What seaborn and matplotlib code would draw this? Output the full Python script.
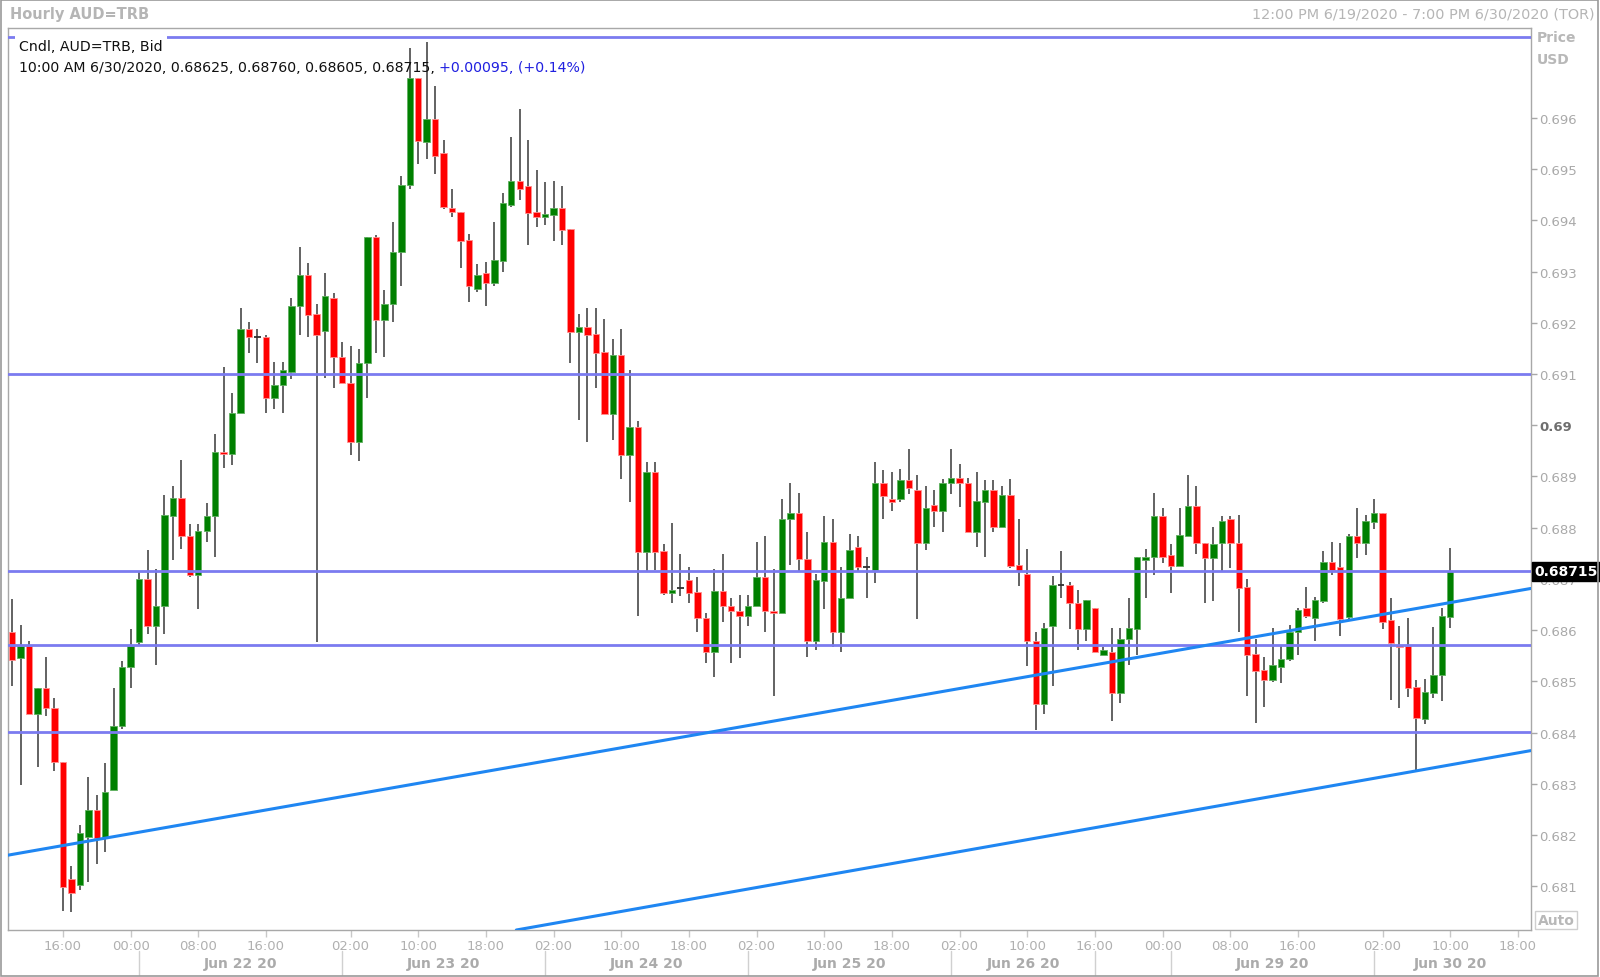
import numpy as np
import pandas as pd
import seaborn as sns
import matplotlib
matplotlib.use("Agg")
import matplotlib.pyplot as plt
import matplotlib.transforms as mtransforms

# ---------------- data (hourly AUD=TRB candles) ----------------
opens = [0.68597, 0.68546, 0.68570, 0.68436, 0.68488, 0.68449, 0.68343, 0.68115, 0.68103, 0.68197,
         0.68249, 0.68196, 0.68288, 0.68414, 0.68528, 0.68577, 0.68699, 0.68608, 0.68648, 0.68823,
         0.68858, 0.68784, 0.68707, 0.68793, 0.68823, 0.68948, 0.68943, 0.69024, 0.69188, 0.69172,
         0.69172, 0.69053, 0.69078, 0.69104, 0.69232, 0.69293, 0.69217, 0.69183, 0.69248, 0.69133,
         0.69083, 0.68967, 0.69122, 0.69367, 0.69206, 0.69236, 0.69338, 0.69468, 0.69677, 0.69552,
         0.69597, 0.69532, 0.69423, 0.69417, 0.69362, 0.69266, 0.69297, 0.69277, 0.69321, 0.69430,
         0.69477, 0.69467, 0.69417, 0.69407, 0.69411, 0.69423, 0.69383, 0.69182, 0.69192, 0.69178,
         0.69142, 0.69022, 0.69137, 0.68942, 0.68997, 0.68753, 0.68908, 0.68754, 0.68673, 0.68682,
         0.68698, 0.68674, 0.68623, 0.68558, 0.68677, 0.68648, 0.68638, 0.68627, 0.68648, 0.68703,
         0.68638, 0.68633, 0.68818, 0.68829, 0.68739, 0.68578, 0.68697, 0.68772, 0.68597, 0.68662,
         0.68762, 0.68723, 0.68718, 0.68887, 0.68857, 0.68856, 0.68893, 0.68874, 0.68771, 0.68844,
         0.68832, 0.68887, 0.68897, 0.68888, 0.68792, 0.68851, 0.68874, 0.68801, 0.68864, 0.68727,
         0.68710, 0.68578, 0.68457, 0.68608, 0.68688, 0.68688, 0.68653, 0.68602, 0.68643, 0.68552,
         0.68557, 0.68478, 0.68582, 0.68603, 0.68738, 0.68742, 0.68822, 0.68747, 0.68726, 0.68783,
         0.68843, 0.68771, 0.68741, 0.68771, 0.68818, 0.68770, 0.68684, 0.68554, 0.68523, 0.68502,
         0.68528, 0.68543, 0.68596, 0.68643, 0.68623, 0.68658, 0.68734, 0.68723, 0.68625, 0.68783,
         0.68771, 0.68812, 0.68829, 0.68619, 0.68572, 0.68569, 0.68489, 0.68426, 0.68478, 0.68512,
         0.68625]
highs = [0.68660, 0.68610, 0.68578, 0.68488, 0.68547, 0.68468, 0.68343, 0.68139, 0.68219, 0.68313,
         0.68278, 0.68341, 0.68488, 0.68539, 0.68603, 0.68715, 0.68756, 0.68720, 0.68864, 0.68882,
         0.68933, 0.68808, 0.68808, 0.68849, 0.68982, 0.69113, 0.69063, 0.69228, 0.69202, 0.69188,
         0.69176, 0.69123, 0.69123, 0.69248, 0.69347, 0.69317, 0.69237, 0.69297, 0.69258, 0.69162,
         0.69154, 0.69148, 0.69367, 0.69372, 0.69263, 0.69397, 0.69487, 0.69737, 0.69677, 0.69747,
         0.69662, 0.69557, 0.69462, 0.69417, 0.69373, 0.69315, 0.69318, 0.69397, 0.69453, 0.69563,
         0.69617, 0.69557, 0.69498, 0.69474, 0.69477, 0.69467, 0.69383, 0.69217, 0.69228, 0.69228,
         0.69207, 0.69168, 0.69188, 0.69108, 0.69009, 0.68929, 0.68929, 0.68768, 0.68809, 0.68749,
         0.68723, 0.68703, 0.68633, 0.68720, 0.68749, 0.68662, 0.68669, 0.68669, 0.68773, 0.68783,
         0.68719, 0.68857, 0.68887, 0.68867, 0.68792, 0.68710, 0.68822, 0.68818, 0.68723, 0.68788,
         0.68783, 0.68742, 0.68929, 0.68913, 0.68908, 0.68915, 0.68953, 0.68903, 0.68882, 0.68874,
         0.68896, 0.68953, 0.68924, 0.68898, 0.68908, 0.68893, 0.68893, 0.68882, 0.68896, 0.68818,
         0.68758, 0.68597, 0.68614, 0.68705, 0.68754, 0.68694, 0.68679, 0.68659, 0.68643, 0.68568,
         0.68604, 0.68604, 0.68662, 0.68742, 0.68759, 0.68868, 0.68838, 0.68768, 0.68838, 0.68903,
         0.68882, 0.68771, 0.68802, 0.68822, 0.68822, 0.68824, 0.68699, 0.68583, 0.68547, 0.68604,
         0.68571, 0.68610, 0.68643, 0.68684, 0.68664, 0.68755, 0.68773, 0.68770, 0.68788, 0.68838,
         0.68824, 0.68857, 0.68829, 0.68663, 0.68609, 0.68623, 0.68503, 0.68505, 0.68606, 0.68643,
         0.68760]
lows = [0.68492, 0.68297, 0.68436, 0.68333, 0.68433, 0.68326, 0.68053, 0.68050, 0.68093, 0.68108,
        0.68144, 0.68168, 0.68288, 0.68407, 0.68487, 0.68570, 0.68593, 0.68533, 0.68593, 0.68738,
        0.68758, 0.68704, 0.68642, 0.68772, 0.68743, 0.68917, 0.68923, 0.69024, 0.69141, 0.69121,
        0.69024, 0.69032, 0.69024, 0.69090, 0.69176, 0.69172, 0.68577, 0.69092, 0.69072, 0.69083,
        0.68942, 0.68931, 0.69053, 0.69141, 0.69133, 0.69201, 0.69271, 0.69461, 0.69510, 0.69519,
        0.69490, 0.69422, 0.69407, 0.69306, 0.69241, 0.69261, 0.69232, 0.69271, 0.69300, 0.69425,
        0.69440, 0.69351, 0.69386, 0.69391, 0.69360, 0.69351, 0.69121, 0.69011, 0.68967, 0.69072,
        0.69022, 0.68972, 0.68896, 0.68851, 0.68627, 0.68713, 0.68718, 0.68669, 0.68653, 0.68666,
        0.68653, 0.68597, 0.68537, 0.68508, 0.68617, 0.68537, 0.68546, 0.68609, 0.68648, 0.68597,
        0.68472, 0.68633, 0.68727, 0.68716, 0.68547, 0.68562, 0.68641, 0.68567, 0.68558, 0.68662,
        0.68714, 0.68662, 0.68692, 0.68818, 0.68832, 0.68851, 0.68866, 0.68622, 0.68757, 0.68801,
        0.68791, 0.68866, 0.68841, 0.68792, 0.68762, 0.68742, 0.68791, 0.68801, 0.68721, 0.68687,
        0.68531, 0.68406, 0.68437, 0.68492, 0.68662, 0.68602, 0.68562, 0.68578, 0.68558, 0.68552,
        0.68422, 0.68458, 0.68532, 0.68552, 0.68662, 0.68707, 0.68732, 0.68673, 0.68726, 0.68783,
        0.68749, 0.68653, 0.68658, 0.68714, 0.68721, 0.68597, 0.68472, 0.68419, 0.68451, 0.68498,
        0.68497, 0.68539, 0.68552, 0.68623, 0.68578, 0.68653, 0.68707, 0.68588, 0.68622, 0.68741,
        0.68747, 0.68797, 0.68602, 0.68463, 0.68448, 0.68469, 0.68327, 0.68417, 0.68468, 0.68462,
        0.68605]
closes = [0.68542, 0.68570, 0.68436, 0.68488, 0.68448, 0.68342, 0.68098, 0.68088, 0.68204, 0.68249,
          0.68194, 0.68285, 0.68414, 0.68529, 0.68570, 0.68700, 0.68608, 0.68648, 0.68824, 0.68858,
          0.68784, 0.68707, 0.68793, 0.68823, 0.68948, 0.68943, 0.69024, 0.69188, 0.69172, 0.69172,
          0.69053, 0.69078, 0.69107, 0.69233, 0.69293, 0.69216, 0.69176, 0.69252, 0.69133, 0.69083,
          0.68967, 0.69122, 0.69367, 0.69206, 0.69237, 0.69338, 0.69468, 0.69677, 0.69555, 0.69597,
          0.69526, 0.69425, 0.69417, 0.69360, 0.69271, 0.69293, 0.69278, 0.69323, 0.69433, 0.69477,
          0.69461, 0.69415, 0.69407, 0.69412, 0.69423, 0.69381, 0.69182, 0.69192, 0.69176, 0.69141,
          0.69022, 0.69137, 0.68942, 0.68997, 0.68753, 0.68908, 0.68753, 0.68673, 0.68679, 0.68682,
          0.68673, 0.68623, 0.68558, 0.68677, 0.68647, 0.68638, 0.68627, 0.68648, 0.68703, 0.68638,
          0.68633, 0.68818, 0.68829, 0.68739, 0.68578, 0.68698, 0.68772, 0.68597, 0.68662, 0.68757,
          0.68723, 0.68723, 0.68887, 0.68862, 0.68851, 0.68893, 0.68877, 0.68771, 0.68838, 0.68832,
          0.68888, 0.68897, 0.68887, 0.68792, 0.68853, 0.68874, 0.68801, 0.68864, 0.68726, 0.68716,
          0.68578, 0.68457, 0.68604, 0.68689, 0.68688, 0.68653, 0.68602, 0.68659, 0.68558, 0.68562,
          0.68478, 0.68583, 0.68604, 0.68742, 0.68742, 0.68822, 0.68742, 0.68726, 0.68786, 0.68843,
          0.68771, 0.68741, 0.68768, 0.68814, 0.68771, 0.68682, 0.68552, 0.68521, 0.68502, 0.68533,
          0.68544, 0.68596, 0.68640, 0.68627, 0.68659, 0.68734, 0.68718, 0.68622, 0.68783, 0.68771,
          0.68814, 0.68829, 0.68617, 0.68575, 0.68567, 0.68487, 0.68428, 0.68479, 0.68512, 0.68627,
          0.68715]

time_tick_pos = [6, 14, 22, 30, 40, 48, 56, 64, 72, 80, 88, 96, 104, 112, 120, 128, 136, 144, 152, 162, 170, 178]
time_tick_labels = ["16:00", "00:00", "08:00", "16:00", "02:00", "10:00", "18:00", "02:00", "10:00", "18:00",
                    "02:00", "10:00", "18:00", "02:00", "10:00", "16:00", "00:00", "08:00", "16:00", "02:00",
                    "10:00", "18:00"]
day_sep_pos = [15, 39, 63, 87, 111, 128, 137, 161]
day_label_pos = [27, 51, 75, 99, 119.5, 149, 170]
day_labels = ["Jun 22 20", "Jun 23 20", "Jun 24 20", "Jun 25 20", "Jun 26 20", "Jun 29 20", "Jun 30 20"]

price_ticks = [0.681, 0.682, 0.683, 0.684, 0.685, 0.686, 0.687, 0.688, 0.689, 0.690,
               0.691, 0.692, 0.693, 0.694, 0.695, 0.696]
price_tick_labels = ["0.681", "0.682", "0.683", "0.684", "0.685", "0.686", "0.687", "0.688", "0.689", "0.69",
                     "0.691", "0.692", "0.693", "0.694", "0.695", "0.696"]

h_levels = [0.69757, 0.69100, 0.68715, 0.68571, 0.68402]
trend_upper_pts = [(-0.85, 0.68160), (167.6, 0.68647)]
trend_lower_pts = [(59.6, 0.68015), (179.5, 0.68365)]

last_price = "0.68715"
info_line1 = "Cndl, AUD=TRB, Bid"
info_line2 = "10:00 AM 6/30/2020, 0.68625, 0.68760, 0.68605, 0.68715, "
info_change = "+0.00095, (+0.14%)"

# ---------------- figure ----------------
sns.set_theme(style="white")
plt.rcParams["font.family"] = ["DejaVu Sans"]

df = pd.DataFrame({"idx": np.arange(len(opens)), "open": opens, "high": highs,
                   "low": lows, "close": closes})
df["bottom"] = df[["open", "close"]].min(axis=1)
df["height"] = (df["close"] - df["open"]).abs()
df["up"] = df["close"] > df["open"]
df["doji"] = df["height"] < 0.000005

W, H = 1600, 978
fig = plt.figure(figsize=(W / 100, H / 100), dpi=100)
fig.patch.set_facecolor("white")
ax = fig.add_axes([8.2 / W, 1 - 931 / H, (1530.6 - 8.2) / W, (931 - 28.6) / H])
ax.set_facecolor("white")

# wicks
ax.vlines(df["idx"], df["low"], df["high"], color="#383838", lw=1.1, zorder=2)

# bodies
body_w = 0.76
nd = df[~df["doji"]]
up = nd[nd["up"]]
dn = nd[~nd["up"]]
ax.bar(up["idx"], up["height"].clip(lower=0.00004), bottom=up["bottom"], width=body_w,
       color="#008000", edgecolor="#5fb05f", linewidth=0.6, zorder=3)
ax.bar(dn["idx"], dn["height"].clip(lower=0.00004), bottom=dn["bottom"], width=body_w,
       color="#ff0000", edgecolor="#ff9090", linewidth=0.6, zorder=3)
dj = df[df["doji"]]
ax.hlines(dj["open"], dj["idx"] - body_w / 2, dj["idx"] + body_w / 2, color="#303030", lw=1.3, zorder=3)

# horizontal levels
for lv in h_levels:
    ax.axhline(lv, color="#7b7bf0", lw=2.0, zorder=4)

# trend lines
for pts in (trend_upper_pts, trend_lower_pts):
    ax.axline(pts[0], pts[1], color="#1f86f2", lw=2.2, zorder=5)

ax.set_xlim(-0.47, 179.5)
ax.set_ylim(0.68015, 0.69776)

for sp in ax.spines.values():
    sp.set_color("#a8a8a8")
    sp.set_linewidth(1.0)

# y axis on right
ax.yaxis.tick_right()
ax.set_yticks(price_ticks)
ax.set_yticklabels(price_tick_labels)
ax.tick_params(axis="y", which="major", direction="out", length=4, width=1, color="#a8a8a8",
               labelsize=9.5, labelcolor="#a9a9a9", pad=2, right=True, left=False)
for lab in ax.get_yticklabels():
    if lab.get_text() == "0.69":
        lab.set_fontweight("bold")
        lab.set_color("#6e6e6e")

# x axis
ax.set_xticks(time_tick_pos)
ax.set_xticklabels(time_tick_labels)
ax.tick_params(axis="x", which="major", direction="out", length=5, width=1, color="#c8c8c8",
               labelsize=9.5, labelcolor="#b0b0b0", pad=1.5, bottom=True)

trans = mtransforms.blended_transform_factory(ax.transData, ax.transAxes)
axh = 931 - 28.6
for p in day_sep_pos:
    ax.plot([p, p], [-(952 - 931) / axh, -(976 - 931) / axh], transform=trans, color="#d0d0d0",
            lw=1, clip_on=False)
for p, t in zip(day_label_pos, day_labels):
    ax.text(p, -(964 - 931) / axh, t, transform=trans, ha="center", va="center", fontsize=10,
            fontweight="bold", color="#ababab")

# info text inside plot
t1 = ax.text((19 - 8.2) / 1522.4, 1 - (46.5 - 28.6) / axh, info_line1, transform=ax.transAxes,
             ha="left", va="center", fontsize=10.2, color="#101010", zorder=6,
             bbox=dict(facecolor="white", edgecolor="none", pad=3.0))
t2 = ax.text((19 - 8.2) / 1522.4, 1 - (68.3 - 28.6) / axh, info_line2, transform=ax.transAxes,
             ha="left", va="center", fontsize=10.2, color="#101010", zorder=6)
ax.annotate(info_change, xy=(1, 0.5), xycoords=t2, ha="left", va="center", fontsize=10.2,
            color="#2020e0", zorder=6)

# last price label
ax.annotate(last_price, xy=(1.0, 0.68715), xycoords=("axes fraction", "data"),
            xytext=(3, 0), textcoords="offset points", ha="left", va="center", fontsize=10,
            fontweight="bold", color="white", zorder=10, annotation_clip=False,
            bbox=dict(boxstyle="square,pad=0.2", facecolor="black", edgecolor="black"))

# header texts
fig.text(10 / W, 1 - 15 / H, "Hourly AUD=TRB", ha="left", va="center", fontsize=10.5,
         fontweight="bold", color="#b5b5b5")
fig.text(1595 / W, 1 - 15 / H, "12:00 PM 6/19/2020 - 7:00 PM 6/30/2020 (TOR)", ha="right",
         va="center", fontsize=10.4, color="#b5b5b5")
fig.text(1537 / W, 1 - 38.5 / H, "Price", ha="left", va="center", fontsize=10,
         fontweight="bold", color="#b8b8b8")
fig.text(1537 / W, 1 - 60.5 / H, "USD", ha="left", va="center", fontsize=10,
         fontweight="bold", color="#b8b8b8")
fig.text(1556 / W, 1 - 921 / H, "Auto", ha="center", va="center", fontsize=10,
         fontweight="bold", color="#b8b8b8",
         bbox=dict(boxstyle="square,pad=0.15", facecolor="white", edgecolor="#cfcfcf"))

# outer frame
fig.patches.append(plt.Rectangle((0.0005, 0.001), 0.998, 0.998, transform=fig.transFigure,
                                 fill=False, edgecolor="#9a9a9a", lw=1.2))

fig.savefig("out.png", dpi=100, facecolor="white")
